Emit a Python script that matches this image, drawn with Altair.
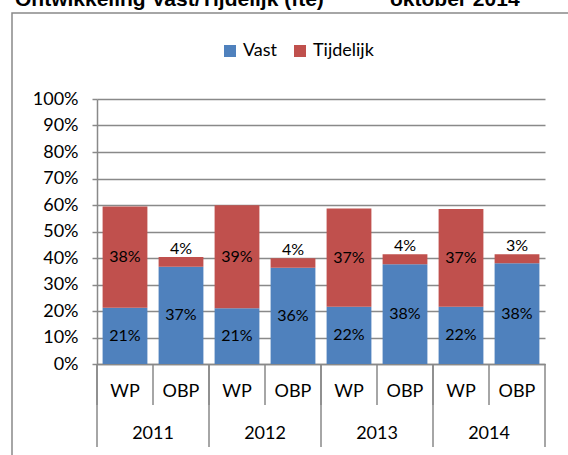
import altair as alt
import pandas as pd

groups = ["WP", "OBP", "WP", "OBP", "WP", "OBP", "WP", "OBP"]
years = ["2011", "2011", "2012", "2012", "2013", "2013", "2014", "2014"]
vast = [0.212, 0.367, 0.210, 0.363, 0.216, 0.376, 0.216, 0.380]
tijdelijk = [0.382, 0.037, 0.389, 0.036, 0.371, 0.038, 0.369, 0.034]
series = ["Vast", "Tijdelijk"]
colors = ["#4F81BD", "#C0504D"]
y_ticks = [0, 0.1, 0.2, 0.3, 0.4, 0.5, 0.6, 0.7, 0.8, 0.9, 1.0]

cats = [f"{g} {y}" for g, y in zip(groups, years)]

rows = []
for c, g, yr, v, t in zip(cats, groups, years, vast, tijdelijk):
    rows.append({"cat": c, "grp": g, "year": yr, "serie": "Vast", "ord": 0,
                 "value": v, "mid": v / 2, "top": v})
    rows.append({"cat": c, "grp": g, "year": yr, "serie": "Tijdelijk", "ord": 1,
                 "value": t, "mid": v + t / 2, "top": v + t})
df = pd.DataFrame(rows)
big = df[df["value"] >= 0.1]
small = df[df["value"] < 0.1]

cat_df = pd.DataFrame({"cat": cats, "grp": groups, "year": years})
year_df = cat_df[cat_df["grp"] == "OBP"]
wp_df = cat_df[cat_df["grp"] == "WP"]
last_df = cat_df.tail(1)

FONT = "Lato"
GRAY = "#898989"

yscale = alt.Scale(domain=[0, 1], nice=False)
yaxis = alt.Axis(values=y_ticks, format=".0%", title=None, labelFont=FONT,
                 labelFontSize=18, labelColor="black", labelPadding=14,
                 labelOverlap=False, labelBound=False, labelFlush=False,
                 tickSize=5, tickColor=GRAY, tickWidth=1.5,
                 domainColor=GRAY, domainWidth=1.5,
                 gridColor=GRAY, gridWidth=1.5)
xscale = alt.Scale(domain=cats, paddingInner=0, paddingOuter=0)
xaxis = alt.Axis(labels=False, ticks=False, title=None, grid=False,
                 domain=True, domainColor=GRAY, domainWidth=1.5)
xplain = dict(scale=xscale, axis=xaxis)

bars = alt.Chart(df).mark_bar(width={"band": 0.8}).encode(
    x=alt.X("cat:N", **xplain),
    y=alt.Y("value:Q", stack="zero", scale=yscale, axis=yaxis),
    color=alt.Color("serie:N", scale=alt.Scale(domain=series, range=colors),
                    legend=alt.Legend(orient="none", legendX=124, legendY=-57,
                                      direction="horizontal", title=None,
                                      symbolType="square", symbolSize=144,
                                      symbolStrokeWidth=0, labelFont=FONT,
                                      labelFontSize=18, labelColor="black",
                                      labelOffset=4, columnPadding=13, padding=0)),
    order=alt.Order("ord:Q"),
)

lab_big = alt.Chart(big).mark_text(font=FONT, fontSize=16, color="black",
                                   baseline="middle").encode(
    x=alt.X("cat:N", **xplain),
    y=alt.Y("mid:Q", scale=yscale, axis=yaxis),
    text=alt.Text("value:Q", format=".0%"),
)
lab_small = alt.Chart(small).mark_text(font=FONT, fontSize=16, color="black",
                                       baseline="alphabetic", dy=-3).encode(
    x=alt.X("cat:N", **xplain),
    y=alt.Y("top:Q", scale=yscale, axis=yaxis),
    text=alt.Text("value:Q", format=".0%"),
)

grp_text = alt.Chart(cat_df).mark_text(font=FONT, fontSize=18, color="black",
                                       baseline="middle").encode(
    x=alt.X("cat:N", **xplain),
    y=alt.value(293),
    text="grp:N",
)
year_text = alt.Chart(year_df).mark_text(font=FONT, fontSize=18, color="black",
                                         baseline="middle").encode(
    x=alt.X("cat:N", bandPosition=0, **xplain),
    y=alt.value(335),
    text="year:N",
)

sep_short = alt.Chart(cat_df).mark_rule(color=GRAY, strokeWidth=1.5).encode(
    x=alt.X("cat:N", bandPosition=0, **xplain),
    y=alt.value(265), y2=alt.value(306),
)
sep_long = alt.Chart(wp_df).mark_rule(color=GRAY, strokeWidth=1.5).encode(
    x=alt.X("cat:N", bandPosition=0, **xplain),
    y=alt.value(265), y2=alt.value(348),
)
sep_end = alt.Chart(last_df).mark_rule(color=GRAY, strokeWidth=1.5).encode(
    x=alt.X("cat:N", bandPosition=1, **xplain),
    y=alt.value(265), y2=alt.value(348),
)

one = pd.DataFrame({"t1": ["Ontwikkeling Vast/Tijdelijk (fte)"], "t2": ["oktober 2014"]})
frame = alt.Chart(one).mark_rect(fill=None, stroke=GRAY, strokeWidth=1.5).encode(
    x=alt.value(-85), x2=alt.value(490), y=alt.value(-86), y2=alt.value(380),
)
title1 = alt.Chart(one).mark_text(font="Liberation Sans", fontSize=21, fontWeight="bold",
                                  color="black", align="left", baseline="alphabetic").encode(
    x=alt.value(-82), y=alt.value(-93), text="t1:N")
title2 = alt.Chart(one).mark_text(font="Liberation Sans", fontSize=21, fontWeight="bold",
                                  color="black", align="left", baseline="alphabetic").encode(
    x=alt.value(293), y=alt.value(-93), text="t2:N")

chart = alt.layer(
    frame, bars, lab_big, lab_small, grp_text, year_text,
    sep_short, sep_long, sep_end, title1, title2,
).properties(
    width=448, height=265,
    padding={"left": 97, "top": 99, "right": 23, "bottom": 91},
    autosize="none",
    background="white",
).configure_view(stroke=None)

chart.save("out.html", embed_options={"renderer": "svg", "actions": False})
